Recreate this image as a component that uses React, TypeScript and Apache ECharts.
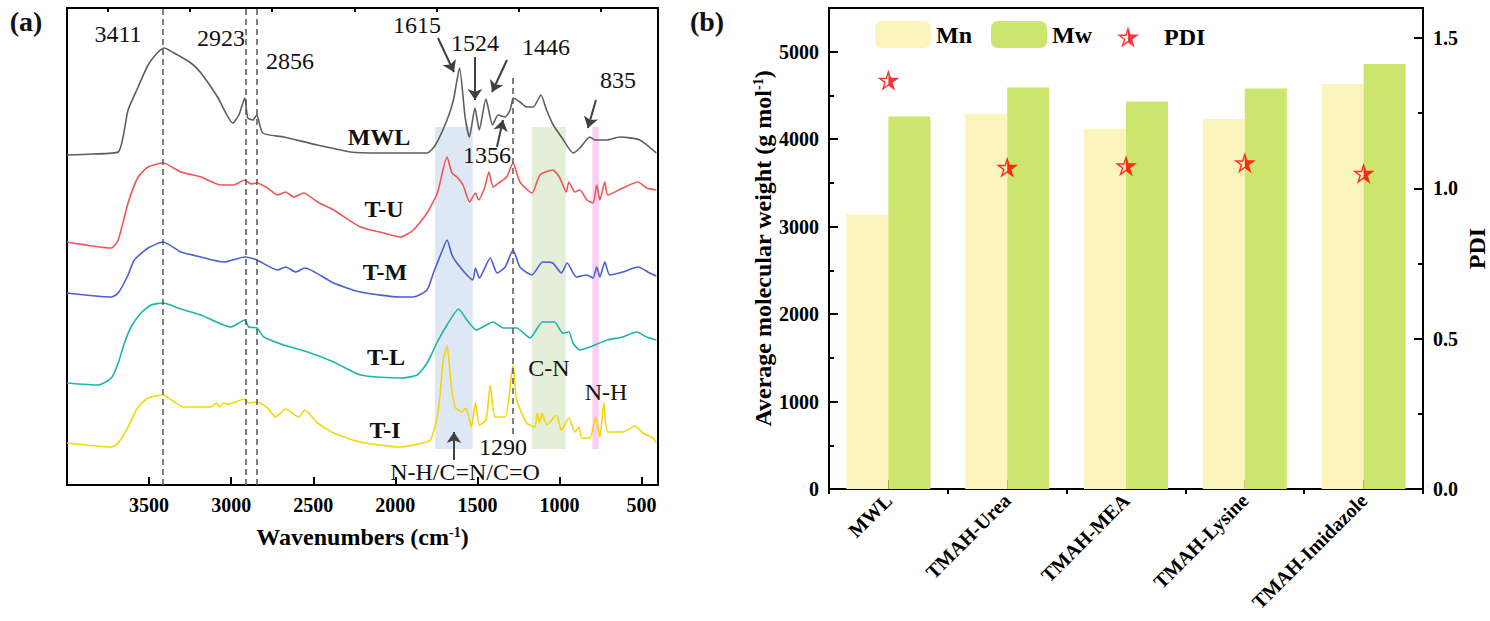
import React, { useEffect, useRef } from "react";
import * as echarts from "echarts";

const FONT = "'Times New Roman', 'Liberation Serif', serif";

// FTIR spectra (wavenumber cm-1, offset absorbance in arbitrary units)
const mwlSpectrum: [number, number][] = [
  [4000, 330], [3850, 331], [3688, 333], [3628, 375], [3567, 398], [3506, 420], [3445, 433], [3409, 437],
  [3348, 432], [3245, 422], [3184, 412], [3083, 388], [2990, 362], [2953, 370], [2917, 387], [2899, 367],
  [2868, 365], [2844, 370], [2808, 352], [2680, 348], [2474, 340], [2273, 333], [2090, 332], [1970, 332],
  [1807, 332], [1756, 340], [1685, 365], [1646, 385], [1609, 417], [1575, 368], [1549, 348], [1515, 377],
  [1489, 355], [1448, 386], [1408, 360], [1374, 370], [1331, 368], [1301, 375], [1281, 387], [1241, 383],
  [1200, 378], [1160, 378], [1113, 390], [1079, 375], [1038, 360], [988, 348], [916, 332], [876, 337],
  [815, 348], [784, 345], [713, 345], [632, 348], [511, 345], [410, 332],
];
const tuSpectrum: [number, number][] = [
  [4000, 243], [3730, 237], [3688, 245], [3628, 282], [3567, 308], [3506, 318], [3415, 322], [3306, 313],
  [3184, 308], [3063, 300], [2984, 300], [2917, 305], [2880, 301], [2844, 302], [2778, 297], [2717, 290],
  [2668, 293], [2619, 288], [2558, 292], [2474, 283], [2376, 275], [2212, 258], [2072, 252], [1970, 248],
  [1890, 255], [1807, 272], [1744, 292], [1685, 328], [1655, 312], [1625, 308], [1588, 300], [1547, 283],
  [1512, 292], [1492, 285], [1455, 298], [1430, 313], [1404, 298], [1362, 303], [1322, 308], [1283, 322],
  [1241, 303], [1168, 292], [1119, 310], [1041, 315], [1001, 308], [959, 293], [943, 303], [906, 293],
  [876, 295], [833, 285], [796, 282], [773, 300], [754, 285], [724, 303], [706, 290], [614, 297],
  [523, 303], [469, 297], [410, 295],
];
const tmSpectrum: [number, number][] = [
  [4000, 192], [3730, 188], [3688, 192], [3628, 210], [3590, 225], [3506, 237], [3415, 243], [3306, 233],
  [3184, 228], [3044, 223], [2917, 228], [2844, 225], [2717, 215], [2668, 218], [2607, 213], [2552, 217],
  [2376, 202], [2212, 193], [1970, 188], [1890, 188], [1807, 195], [1768, 212], [1720, 232], [1685, 245],
  [1655, 230], [1625, 222], [1564, 210], [1528, 205], [1512, 217], [1488, 207], [1422, 227], [1380, 212],
  [1331, 218], [1283, 235], [1241, 218], [1168, 210], [1103, 223], [1041, 222], [989, 212], [953, 222],
  [898, 208], [835, 210], [796, 207], [773, 218], [754, 208], [724, 223], [694, 210], [614, 213],
  [523, 218], [450, 212], [410, 209],
];
const tlSpectrum: [number, number][] = [
  [4000, 102], [3810, 100], [3730, 107], [3688, 122], [3650, 142], [3610, 158], [3549, 172], [3488, 180],
  [3415, 182], [3306, 176], [3184, 170], [3002, 158], [2917, 165], [2893, 158], [2844, 157], [2801, 148],
  [2680, 140], [2534, 133], [2376, 123], [2212, 110], [1970, 107], [1867, 110], [1807, 122], [1744, 143],
  [1685, 160], [1615, 176], [1564, 165], [1506, 155], [1467, 158], [1404, 163], [1342, 157], [1261, 157],
  [1180, 147], [1103, 163], [1030, 163], [981, 152], [943, 153], [918, 142], [876, 135], [815, 138],
  [709, 145], [614, 148], [529, 153], [469, 148], [410, 145],
];
const tiSpectrum: [number, number][] = [
  [4000, 42], [3730, 38], [3688, 42], [3628, 58], [3567, 78], [3506, 87], [3415, 90], [3348, 83],
  [3288, 78], [3123, 78], [3090, 82], [3070, 78], [3050, 82], [3020, 81], [2917, 86], [2893, 82],
  [2844, 83], [2778, 77], [2729, 68], [2668, 76], [2589, 68], [2552, 75], [2474, 62], [2376, 52],
  [2212, 43], [1970, 38], [1890, 40], [1787, 45], [1738, 75], [1708, 125], [1685, 139], [1661, 102],
  [1637, 78], [1595, 73], [1570, 77], [1537, 58], [1512, 82], [1488, 60], [1447, 65], [1422, 100],
  [1392, 68], [1331, 68], [1283, 120], [1261, 85], [1200, 62], [1150, 58], [1137, 72], [1122, 62],
  [1107, 72], [1077, 60], [1018, 70], [989, 55], [943, 67], [906, 53], [882, 58], [864, 47],
  [815, 47], [779, 68], [754, 48], [730, 82], [706, 53], [614, 53], [541, 59], [493, 52],
  [432, 47], [410, 42],
];

const majorWavenumbers = [3500, 3000, 2500, 2000, 1500, 1000, 500];
const minorWavenumbers = [3750, 3250, 2750, 2250, 1750, 1250, 750];
const peakGuides = [3418, 2912, 2845];
const guide1290: [number, number][] = [[1285, 407], [1285, 50]];
const bandRanges: [number, number][] = [[1758, 1529], [1169, 962], [800, 760]];
const bandColors = ["rgba(187,209,233,0.5)", "rgba(201,221,177,0.5)", "rgba(243,161,231,0.5)"];
const arrowCoords: [number, number, number, number][] = [
  [1740, 447, 1643, 413],
  [1515, 428, 1515, 385],
  [1320, 425, 1411, 393],
  [1381, 338, 1344, 365],
  [778, 385, 827, 357],
  [1643, 25, 1643, 53],
];

// Molecular weight data
const categories = ["MWL", "TMAH-Urea", "TMAH-MEA", "TMAH-Lysine", "TMAH-Imidazole"];
const mnValues = [3140, 4290, 4120, 4230, 4630];
const mwValues = [4260, 4590, 4430, 4580, 4860];
const pdiValues = [1.36, 1.07, 1.075, 1.085, 1.05];

const STAR =
  "path://M0,-10L2.245,-3.09L9.511,-3.09L3.633,1.18L5.878,8.09L0,3.82L-5.878,8.09L-3.633,1.18L-9.511,-3.09L-2.245,-3.09Z" +
  "M0,-6L-1.347,-1.854L-5.707,-1.854L-2.18,0.708L-3.527,4.854L0,2.292Z";

const annotations = [
  { text: "3411", x: 118, y: 34 },
  { text: "2923", x: 221, y: 38 },
  { text: "2856", x: 290, y: 61 },
  { text: "1615", x: 417, y: 25 },
  { text: "1524", x: 475, y: 43 },
  { text: "1446", x: 546, y: 47 },
  { text: "835", x: 618, y: 80 },
  { text: "1356", x: 487, y: 155 },
  { text: "1290", x: 503, y: 447 },
  { text: "N-H/C=N/C=O", x: 465, y: 472 },
  { text: "C-N", x: 549, y: 368 },
  { text: "N-H", x: 606, y: 392 },
];
const curveLabels = [
  { text: "MWL", x: 379, y: 137 },
  { text: "T-U", x: 384, y: 209 },
  { text: "T-M", x: 385, y: 272 },
  { text: "T-L", x: 386, y: 357 },
  { text: "T-I", x: 385, y: 430 },
];

const axisLabelStyle = { fontSize: 20, fontWeight: "bold", fontFamily: FONT, color: "#000" };
const blackLine = { color: "#000", width: 2 };
const plain = (v: number) => String(v);

export default function App() {
  const ref = useRef<HTMLDivElement>(null);
  useEffect(() => {
    if (!ref.current) return;
    const chart = echarts.init(ref.current, undefined, { renderer: "svg" });

    const spectra = [
      { name: "MWL", data: mwlSpectrum, color: "#5e5e5e" },
      { name: "T-U", data: tuSpectrum, color: "#f25555" },
      { name: "T-M", data: tmSpectrum, color: "#4a5fd4" },
      { name: "T-L", data: tlSpectrum, color: "#1cb5ad" },
      { name: "T-I", data: tiSpectrum, color: "#f5d60a" },
    ];

    const textEl = (t: { text: string; x: number; y: number }, size: number, weight: string) => ({
      type: "text",
      x: t.x,
      y: t.y,
      z: 100,
      style: {
        text: t.text,
        fontSize: size,
        fontWeight: weight,
        fontFamily: FONT,
        fill: "#111",
        align: "center",
        verticalAlign: "middle",
      },
    });

    const option: any = {
      animation: false,
      backgroundColor: "#fff",
      grid: [
        { left: 67, top: 8, width: 591, height: 477, show: true, borderColor: "#000", borderWidth: 2, backgroundColor: "transparent" },
        { left: 829, top: 8, width: 598, height: 481, show: true, borderColor: "#000", borderWidth: 2, backgroundColor: "transparent" },
      ],
      legend: [
        {
          data: ["Mn", "Mw"],
          left: 870,
          top: 16,
          itemWidth: 56,
          itemHeight: 27,
          itemGap: 19,
          selectedMode: false,
          textStyle: { fontSize: 24, fontWeight: "bold", fontFamily: FONT, color: "#000" },
        },
        {
          data: ["PDI"],
          left: 1112,
          top: 20,
          itemWidth: 22,
          itemHeight: 22,
          selectedMode: false,
          textStyle: { fontSize: 24, fontWeight: "bold", fontFamily: FONT, color: "#000", padding: [0, 0, 0, 20] },
        },
      ],
      xAxis: [
        {
          gridIndex: 0,
          type: "value",
          min: 400,
          max: 4000,
          inverse: true,
          name: "Wavenumbers (cm{sup|-1})",
          nameLocation: "middle",
          nameGap: 40,
          nameTextStyle: {
            fontSize: 24, fontWeight: "bold", fontFamily: FONT, color: "#000",
            rich: { sup: { fontSize: 14, fontWeight: "bold", fontFamily: FONT, color: "#000", verticalAlign: "top" } },
          },
          axisLine: { show: true, lineStyle: blackLine },
          axisTick: { show: true, inside: true, length: 8, lineStyle: blackLine, customValues: majorWavenumbers },
          axisLabel: { ...axisLabelStyle, margin: 10, customValues: majorWavenumbers, formatter: plain },
          splitLine: { show: false },
        },
        {
          gridIndex: 0,
          type: "value",
          min: 400,
          max: 4000,
          inverse: true,
          axisLine: { show: false },
          axisTick: { show: true, inside: true, length: 4, lineStyle: blackLine, customValues: minorWavenumbers },
          axisLabel: { show: false, customValues: minorWavenumbers },
          splitLine: { show: false },
        },
        {
          gridIndex: 1,
          type: "category",
          data: categories,
          axisLine: { show: true, lineStyle: blackLine },
          axisTick: { show: true, inside: true, alignWithLabel: true, length: 9, lineStyle: blackLine },
          axisLabel: { ...axisLabelStyle, rotate: 45, interval: 0, margin: 8 },
          splitLine: { show: false },
        },
        {
          gridIndex: 1,
          type: "category",
          data: categories,
          axisLine: { show: false },
          axisTick: { show: true, inside: true, length: 5, lineStyle: blackLine },
          axisLabel: { show: false },
          splitLine: { show: false },
        },
      ],
      yAxis: [
        { gridIndex: 0, type: "value", min: 0, max: 477, show: false },
        {
          gridIndex: 1,
          type: "value",
          min: 0,
          max: 5500,
          interval: 1000,
          position: "left",
          name: "Average molecular weight (g mol{sup|-1})",
          nameLocation: "middle",
          nameRotate: 90,
          nameGap: 48,
          nameTextStyle: {
            fontSize: 24, fontWeight: "bold", fontFamily: FONT, color: "#000",
            rich: { sup: { fontSize: 14, fontWeight: "bold", fontFamily: FONT, color: "#000", verticalAlign: "top" } },
          },
          axisLine: { show: true, lineStyle: blackLine },
          axisTick: { show: true, inside: true, length: 9, lineStyle: blackLine },
          minorTick: { show: true, splitNumber: 2, length: 5, lineStyle: blackLine },
          axisLabel: { ...axisLabelStyle, margin: 10, showMaxLabel: false, formatter: plain },
          splitLine: { show: false },
        },
        {
          gridIndex: 1,
          type: "value",
          min: 0,
          max: 1.6,
          interval: 0.5,
          position: "right",
          name: "PDI",
          nameLocation: "middle",
          nameRotate: 90,
          nameGap: 42,
          nameTextStyle: { fontSize: 24, fontWeight: "bold", fontFamily: FONT, color: "#000" },
          axisLine: { show: true, lineStyle: blackLine },
          axisTick: { show: true, inside: true, length: 9, lineStyle: blackLine },
          minorTick: { show: true, splitNumber: 2, length: 5, lineStyle: blackLine },
          axisLabel: { ...axisLabelStyle, margin: 10, showMaxLabel: false, formatter: (v: number) => v.toFixed(1) },
          splitLine: { show: false },
        },
      ],
      series: [
        ...spectra.map((s) => ({
          name: s.name,
          type: "line",
          xAxisIndex: 0,
          yAxisIndex: 0,
          data: s.data,
          showSymbol: false,
          smooth: 0.2,
          lineStyle: { color: s.color, width: 1.6 },
          itemStyle: { color: s.color },
          z: 2,
        })),
        {
          name: "bands",
          type: "line",
          xAxisIndex: 0,
          yAxisIndex: 0,
          data: [],
          z: 5,
          silent: true,
          markArea: {
            silent: true,
            data: bandRanges.map((b, i) => [
              { xAxis: b[0], yAxis: 36, itemStyle: { color: bandColors[i] } },
              { xAxis: b[1], yAxis: 358 },
            ]),
          },
        },
        {
          name: "guides",
          type: "line",
          xAxisIndex: 0,
          yAxisIndex: 0,
          data: [],
          z: 6,
          silent: true,
          markLine: {
            silent: true,
            symbol: "none",
            label: { show: false },
            lineStyle: { color: "#555", width: 1.5, type: [6, 4] },
            data: [
              ...peakGuides.map((v) => ({ xAxis: v })),
              [{ coord: guide1290[0] }, { coord: guide1290[1] }],
            ],
          },
        },
        {
          name: "arrows",
          type: "line",
          xAxisIndex: 0,
          yAxisIndex: 0,
          data: [],
          z: 7,
          silent: true,
          markLine: {
            silent: true,
            symbol: ["none", "arrow"],
            symbolSize: 11,
            label: { show: false },
            lineStyle: { color: "#404040", width: 2, type: "solid" },
            data: arrowCoords.map((a) => [{ coord: [a[0], a[1]] }, { coord: [a[2], a[3]] }]),
          },
        },
        {
          name: "Mn",
          type: "bar",
          xAxisIndex: 2,
          yAxisIndex: 1,
          data: mnValues,
          barWidth: 42,
          barGap: "0%",
          itemStyle: { color: "#fcf4bd" },
        },
        {
          name: "Mw",
          type: "bar",
          xAxisIndex: 2,
          yAxisIndex: 1,
          data: mwValues,
          barWidth: 42,
          barGap: "0%",
          itemStyle: { color: "#cce56c" },
        },
        {
          name: "PDI",
          type: "scatter",
          xAxisIndex: 2,
          yAxisIndex: 2,
          data: pdiValues,
          symbol: STAR,
          symbolSize: [22, 21],
          itemStyle: { color: "#ff0000" },
          z: 5,
        },
      ],
      graphic: [
        ...annotations.map((a) => textEl(a, 24, "normal")),
        ...curveLabels.map((a) => textEl(a, 24, "bold")),
        textEl({ text: "(a)", x: 26, y: 21 }, 28, "bold"),
        textEl({ text: "(b)", x: 707, y: 21 }, 28, "bold"),
      ],
    };

    chart.setOption(option);
    return () => chart.dispose();
  }, []);

  return (
    <div
      ref={ref}
      style={{ position: "fixed", left: 0, top: 0, width: 1490, height: 621, background: "#fff" }}
    />
  );
}
